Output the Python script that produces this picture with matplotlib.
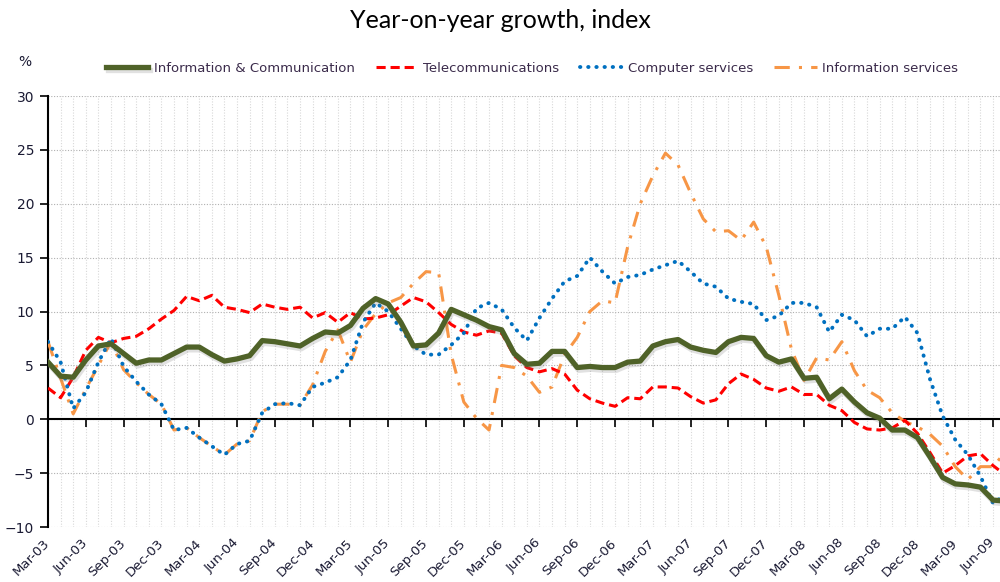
import numpy as np
import pandas as pd
import matplotlib
matplotlib.use("Agg")
import matplotlib.pyplot as plt
import matplotlib.patheffects as pe
from matplotlib.ticker import MultipleLocator

# monthly, Mar-03 .. Jul-09
months = pd.date_range("2003-03-01", periods=77, freq="MS").strftime("%b-%y").tolist()

info_comm = [5.3, 4.0, 3.9, 5.5, 6.8, 7.0, 6.1, 5.2, 5.5, 5.5,
             6.1, 6.7, 6.7, 6.0, 5.4, 5.6, 5.9, 7.3, 7.2, 7.0,
             6.8, 7.5, 8.1, 8.0, 8.7, 10.3, 11.2, 10.7, 9.0, 6.8,
             6.9, 8.0, 10.2, 9.7, 9.2, 8.6, 8.3, 6.1, 5.1, 5.2,
             6.3, 6.3, 4.8, 4.9, 4.8, 4.8, 5.3, 5.4, 6.8, 7.2,
             7.4, 6.7, 6.4, 6.2, 7.2, 7.6, 7.5, 5.9, 5.3, 5.6,
             3.8, 3.9, 1.9, 2.8, 1.6, 0.6, 0.1, -1.0, -1.0, -1.7,
             -3.5, -5.4, -6.0, -6.1, -6.3, -7.5, -7.6]

telecom = [2.9, 2.0, 3.9, 6.4, 7.6, 7.1, 7.5, 7.7, 8.4, 9.3,
           10.1, 11.4, 11.0, 11.5, 10.4, 10.2, 9.9, 10.7, 10.4, 10.2,
           10.4, 9.4, 9.9, 9.0, 9.9, 9.3, 9.4, 9.7, 10.5, 11.3,
           10.9, 9.9, 8.8, 8.1, 7.8, 8.2, 8.0, 5.9, 4.8, 4.4,
           4.7, 4.2, 2.7, 1.9, 1.5, 1.2, 2.0, 1.9, 3.0, 3.0,
           2.9, 2.1, 1.5, 1.8, 3.3, 4.2, 3.7, 2.9, 2.6, 3.0,
           2.3, 2.3, 1.3, 0.8, -0.3, -0.9, -1.0, -0.8, -0.1, -1.3,
           -3.1, -5.0, -4.3, -3.4, -3.2, -4.3, -5.2]

computer = [7.2, 5.3, 1.0, 2.5, 5.3, 7.5, 4.9, 3.5, 2.3, 1.4,
            -1.0, -0.8, -1.7, -2.5, -3.3, -2.3, -2.0, 0.6, 1.4, 1.5,
            1.3, 3.0, 3.4, 3.9, 5.5, 9.0, 10.8, 10.0, 8.4, 6.8,
            6.0, 6.0, 6.9, 8.0, 10.3, 10.8, 10.2, 8.5, 7.3, 9.4,
            11.2, 12.8, 13.3, 15.0, 13.7, 12.6, 13.2, 13.4, 13.9, 14.3,
            14.7, 13.7, 12.6, 12.3, 11.2, 10.9, 10.7, 9.2, 9.6, 10.8,
            10.8, 10.4, 8.1, 9.7, 9.2, 7.7, 8.4, 8.4, 9.5, 8.0,
            3.7, 0.3, -1.9, -3.3, -5.3, -7.8, -7.0]

info_serv = [7.2, 3.8, 0.5, 2.8, 5.0, 7.2, 4.6, 3.4, 2.3, 1.4,
             -1.0, -0.8, -1.7, -2.5, -3.3, -2.3, -2.0, 0.7, 1.4, 1.4,
             1.3, 3.2, 6.3, 8.3, 5.3, 8.3, 9.8, 10.8, 11.3, 12.6,
             13.7, 13.6, 6.0, 1.6, 0.1, -1.0, 5.0, 4.8, 4.0, 2.5,
             3.0, 6.0, 7.6, 10.0, 11.0, 10.8, 16.0, 20.0, 22.6, 24.7,
             23.6, 21.0, 18.6, 17.4, 17.5, 16.6, 18.3, 16.0, 11.5, 6.5,
             3.6, 5.7, 5.5, 7.2, 4.5, 2.7, 2.0, 0.6, -0.2, -0.7,
             -1.4, -2.5, -4.4, -5.6, -4.4, -4.4, -3.0]

x = np.arange(len(months))

fig = plt.figure(figsize=(10, 5.82), dpi=100)
ax = fig.add_axes([0.048, 0.0945, 0.952, 0.7405])

ax.plot(x, info_comm, color="#4f6228", lw=3.8, solid_joinstyle="round",
        label="Information & Communication", zorder=5,
        path_effects=[pe.SimpleLineShadow(offset=(1.0, -2.0), shadow_color="#777777", alpha=0.22),
                      pe.Normal()])
ax.plot(x, telecom, color="#ff0000", lw=2.2, linestyle=(0, (3, 1.6)),
        label="Telecommunications", zorder=4)
ax.plot(x, computer, color="#0070c0", lw=2.8, linestyle=(0, (0.1, 2.0)),
        dash_capstyle="round", label="Computer services", zorder=4)
ax.plot(x, info_serv, color="#f79646", lw=2.2, linestyle=(0, (5, 3, 1, 3)),
        label="Information services", zorder=3)

ax.set_ylim(-10, 30)
ax.set_xlim(0, 75.55)
ax.yaxis.set_major_locator(MultipleLocator(5))
ax.xaxis.set_major_locator(MultipleLocator(3))
ax.xaxis.set_minor_locator(MultipleLocator(1))

ax.grid(axis="y", which="major", color="#b0b0b0", linestyle=(0, (1, 1.5)), lw=0.8)
ax.grid(axis="x", which="both", color="#d8d8d8", linestyle=(0, (1, 1.5)), lw=0.8)
ax.set_axisbelow(True)

for s in ["top", "right"]:
    ax.spines[s].set_visible(False)
ax.spines["left"].set_linewidth(1.5)
ax.spines["bottom"].set_position(("data", 0))
ax.spines["bottom"].set_linewidth(1.5)
ax.spines["bottom"].set_zorder(2)

ax.tick_params(axis="y", direction="out", length=6, width=1.2, labelsize=10,
               labelcolor="#1a1a33", pad=4)
ax.tick_params(axis="x", which="major", direction="out", length=6, width=1.2,
               labelbottom=False)
ax.tick_params(axis="x", which="minor", length=0)

# labels along the bottom edge
sec = ax.secondary_xaxis("bottom")
sec.set_xticks(x[::3])
sec.set_xticklabels(months[::3], rotation=45, ha="right", va="center",
                    rotation_mode="anchor", fontsize=9.5, color="#1a1a33")
sec.tick_params(length=0, pad=10)
sec.spines["bottom"].set_visible(False)

fig.text(0.5, 0.965, "Year-on-year growth, index", ha="center", va="center",
         fontsize=18, family="Lato")
fig.text(0.025, 0.893, "%", ha="center", va="center", fontsize=10, color="#1a1a33")

fig.legend(loc="center", bbox_to_anchor=(0.532, 0.883), ncol=4, frameon=False,
           fontsize=9.5, handlelength=3.2, handletextpad=0.4, columnspacing=1.6,
           labelcolor="#3a2a4a")

fig.savefig("out.png", dpi=100)
